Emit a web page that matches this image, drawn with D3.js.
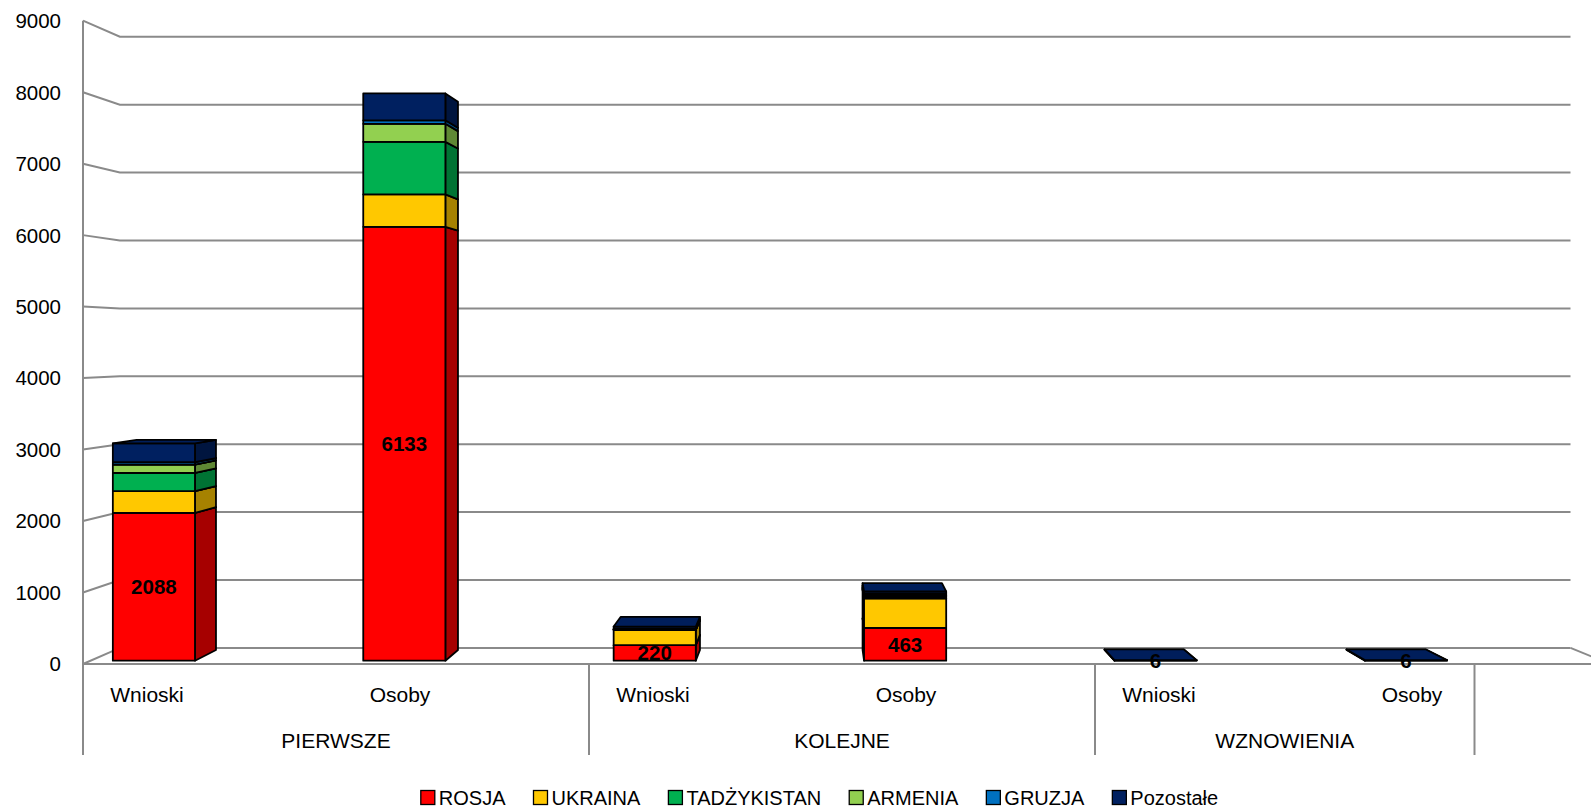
<!DOCTYPE html>
<html><head><meta charset="utf-8">
<script src="https://cdn.jsdelivr.net/npm/d3@7"></script>
<style>body{margin:0;background:#fff}svg{display:block}</style>
</head><body>
<svg id="c" width="1591" height="810"></svg>
<script>
// ---------- data ----------
const groups = ["PIERWSZE", "KOLEJNE", "WZNOWIENIA"];
const subLabels = ["Wnioski", "Osoby"];
const seriesNames = ["ROSJA", "UKRAINA", "TADŻYKISTAN", "ARMENIA", "GRUZJA", "Pozostałe"];
const seriesColors = ["#FF0000", "#FFC800", "#00B050", "#92D050", "#0070C0", "#002060"];
const rosja       = [2088, 6133, 220, 463, 6, 6];
const ukraina     = [310, 458, 215, 420, 0, 0];
const tadzykistan = [258, 743, 5, 20, 0, 0];
const armenia     = [117, 255, 3, 15, 0, 0];
const gruzja      = [35, 50, 5, 25, 0, 0];
const pozostale   = [265, 380, 35, 35, 2, 2];
const yTicks = [0, 1000, 2000, 3000, 4000, 5000, 6000, 7000, 8000, 9000];

// ---------- layout ----------
const seriesValues = [rosja, ukraina, tadzykistan, armenia, gruzja, pozostale];
const keys = groups.flatMap(g => subLabels.map(s => g + "|" + s));
const FONT = "'Liberation Sans', Arial, sans-serif";
const GRID = "#8a8a8a";
const VX = 820, VY = 342, K = 0.05;      // perspective centre / depth shrink
const zF = 0.205, zB = 0.87;             // bar front/back depth
const xLeft = 83, xBandEnd = 1601, xWallEnd = 1610;

const svg = d3.select("#c");
const y = d3.scaleLinear().domain([0, 9000]).range([664, 20.7]);
const x = d3.scaleBand().domain(keys).range([xLeft, xBandEnd]);
const bw = x.bandwidth();
const barC = k => x(k) + bw * 0.253;
const barW = bw * 0.328;

function proj(xf, yf, z) {
  const s = 1 - K * z;
  return [VX + (xf - VX) * s, VY + (yf - VY) * s];
}
const line = d3.line();
const poly = pts => "M" + pts.map(p => p.join(",")).join("L") + "Z";

// ---------- walls / gridlines ----------
const g0 = svg.append("g").attr("fill", "none").attr("stroke", GRID).attr("stroke-width", 2);
yTicks.forEach(t => {
  const a = [xLeft, y(t)], b = proj(xLeft, y(t), 1), c = proj(xWallEnd, y(t), 1);
  g0.append("path").attr("d", line([a, b, c]));
});
// left wall front edge & separators
g0.append("path").attr("d", line([[xLeft, y(9000)], [xLeft, 755]]));
// floor front edge and right slant
g0.append("path").attr("d", line([[xLeft, y(0)], [xWallEnd, y(0)]]));
g0.append("path").attr("d", line([proj(xWallEnd, y(0), 1), [xWallEnd, y(0)]]));

// group separators below axis
const groupBounds = groups.map((gname, gi) => {
  const first = keys[gi * 2], last = keys[gi * 2 + 1];
  const start = x(first);
  const end = gi < groups.length - 1 ? x(keys[gi * 2 + 2]) : x(last) + bw / 2;
  return [start, end];
});
groupBounds.forEach(([s, e]) => {
  g0.append("path").attr("d", line([[e, y(0)], [e, 755]]));
});

// ---------- bars ----------
const gb = svg.append("g").attr("stroke", "#000").attr("stroke-width", 1.8).attr("stroke-linejoin", "round");
keys.forEach((k, i) => {
  const xl = barC(k) - barW / 2, xr = barC(k) + barW / 2;
  let cum = 0;
  seriesValues.forEach((vals, si) => {
    const v = vals[i];
    if (v <= 0) return;
    const v0 = cum, v1 = cum + v; cum = v1;
    const col = d3.color(seriesColors[si]);
    const sideCol = col.darker(1.2).formatHex();
    const y0 = y(v0), y1 = y(v1);
    const fl = proj(xl, y0, zF), fr = proj(xr, y0, zF), tr = proj(xr, y1, zF), tl = proj(xl, y1, zF);
    if (fr[0] < VX) {
      gb.append("path").attr("fill", sideCol)
        .attr("d", poly([proj(xr, y0, zF), proj(xr, y0, zB), proj(xr, y1, zB), proj(xr, y1, zF)]));
    } else if (fl[0] > VX) {
      gb.append("path").attr("fill", sideCol)
        .attr("d", poly([proj(xl, y0, zF), proj(xl, y0, zB), proj(xl, y1, zB), proj(xl, y1, zF)]));
    }
    gb.append("path").attr("fill", col.formatHex()).attr("d", poly([fl, fr, tr, tl]));
    if (tl[1] > VY) {
      gb.append("path").attr("fill", col.darker(0.15).formatHex())
        .attr("d", poly([tl, tr, proj(xr, y1, zB), proj(xl, y1, zB)]));
    }
  });
});

// data labels (ROSJA)
keys.forEach((k, i) => {
  const p0 = proj(barC(k), y(0), zF), p1 = proj(barC(k), y(rosja[i]), zF);
  svg.append("text").attr("x", p0[0]).attr("y", (p0[1] + p1[1]) / 2).attr("dy", "0.36em")
    .attr("text-anchor", "middle").attr("font-family", FONT).attr("font-weight", "bold")
    .attr("font-size", 20.5).attr("fill", "#000").text(rosja[i]);
});

// ---------- axes text ----------
yTicks.forEach(t => {
  svg.append("text").attr("x", 61).attr("y", y(t)).attr("dy", "0.36em").attr("text-anchor", "end")
    .attr("font-family", FONT).attr("font-size", 20.5).attr("fill", "#000").text(t);
});
keys.forEach((k, i) => {
  svg.append("text").attr("x", barC(k)).attr("y", 701.5).attr("text-anchor", "middle")
    .attr("font-family", FONT).attr("font-size", 21).attr("fill", "#000").text(subLabels[i % 2]);
});
groups.forEach((gname, gi) => {
  const [s, e] = groupBounds[gi];
  svg.append("text").attr("x", (s + e) / 2).attr("y", 747.5).attr("text-anchor", "middle")
    .attr("font-family", FONT).attr("font-size", 21).attr("fill", "#000").text(gname);
});

// ---------- legend ----------
const lg = svg.append("g");
const items = seriesNames.map((n, i) => {
  const it = lg.append("g");
  it.append("rect").attr("x", 0).attr("y", -14).attr("width", 14).attr("height", 14)
    .attr("fill", seriesColors[i]).attr("stroke", "#000").attr("stroke-width", 1.3);
  const t = it.append("text").attr("x", 18).attr("y", 0).attr("font-family", FONT)
    .attr("font-size", 20).attr("fill", "#000").text(n);
  return { it, w: 18 + t.node().getComputedTextLength() };
});
const gap = 28;
const total = d3.sum(items, d => d.w) + gap * (items.length - 1);
let cx = 819.5 - total / 2;
items.forEach(d => { d.it.attr("transform", `translate(${cx},804.5)`); cx += d.w + gap; });
</script>
</body></html>
